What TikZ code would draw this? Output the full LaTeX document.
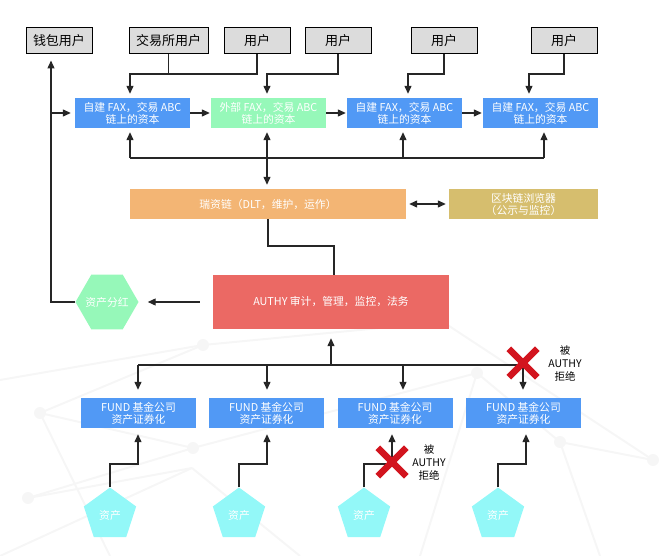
\documentclass[tikz,border=0pt]{standalone}
\usepackage{fontspec}
\setmainfont{Noto Sans CJK SC}
\usetikzlibrary{arrows.meta,shapes.geometric,shapes.misc,positioning}

\definecolor{usergray}{HTML}{DCDCDC}
\definecolor{capblue}{HTML}{5199F5}
\definecolor{capgreen}{HTML}{96F8B9}
\definecolor{chainorange}{HTML}{F3B574}
\definecolor{browsertan}{HTML}{D6BE6E}
\definecolor{authyred}{HTML}{EB6964}
\definecolor{assetcyan}{HTML}{93F8F8}
\definecolor{crossred}{HTML}{D2141E}
\definecolor{netgray}{HTML}{F6F6F6}

\begin{document}
\begin{tikzpicture}[x=1pt,y=-1pt,
  user/.style={draw=black,line width=1pt,fill=usergray,minimum width=66,minimum height=26,font=\fontsize{13}{15}\selectfont},
  box/.style={text=white,minimum width=115,minimum height=30,align=center,font=\fontsize{10.8}{12}\selectfont},
  line/.style={line width=1.3pt,draw=black!85},
  arrow/.style={line,-{Triangle[length=8pt,width=7pt]},shorten >=4pt},
  dblarrow/.style={line,{Triangle[length=8pt,width=7pt]}-{Triangle[length=8pt,width=7pt]},shorten >=4pt,shorten <=4pt},
  asset/.style={regular polygon,regular polygon sides=5,minimum size=55,fill=assetcyan,text=white,font=\fontsize{10.8}{12}\selectfont},
  cross/.style={cross out,draw=crossred,line width=6.5pt,minimum size=22},
  refuse/.style={align=center,font=\fontsize{10.5}{13}\selectfont}]
\tikzstyle{every node}+=[inner sep=0pt]
\useasboundingbox (0,0) rectangle (665,556);

% faint network in the background
\foreach \xa/\ya/\xb/\yb in {40/413/193/448, 193/448/28/498, 40/413/203/345, 203/345/443/322, 193/448/477/373,
  477/373/560/442, 560/442/653/460, 443/322/653/460, 28/498/192/468, 192/468/0/556, 40/413/110/556,
  477/373/420/556, 560/442/600/556, 203/345/0/380, 192/468/300/556}
  \draw[netgray,line width=2pt] (\xa,\ya) -- (\xb,\yb);
\foreach \xa/\ya in {40/413,193/448,28/498,203/345,477/373,560/442,653/460,443/322}
  \fill[netgray] (\xa,\ya) circle (6);

% users
\node[user] (wallet) at (59,41) {钱包用户};
\node[user,minimum width=79] (exch) at (168.5,41) {交易所用户};
\node[user] (u1) at (257,41) {用户};
\node[user] (u2) at (338,41) {用户};
\node[user] (u3) at (444,41) {用户};
\node[user] (u4) at (564,41) {用户};

% capital on chain
\node[box,fill=capblue] (a1) at (132.5,113) {自建 FAX，交易 ABC\\链上的资本};
\node[box,fill=capgreen] (a2) at (268.5,113) {外部 FAX，交易 ABC\\链上的资本};
\node[box,fill=capblue] (a3) at (404.5,113) {自建 FAX，交易 ABC\\链上的资本};
\node[box,fill=capblue] (a4) at (540.5,113) {自建 FAX，交易 ABC\\链上的资本};

\node[box,fill=chainorange,minimum width=276] (chain) at (268,204) {瑞资链（DLT，维护，运作）};
\node[box,fill=browsertan,minimum width=149] (browser) at (523.5,204) {区块链浏览器\\（公示与监控）};

\node[box,fill=authyred,minimum width=236,minimum height=54] (authy) at (331,302) {AUTHY 审计，管理，监控，法务};
\node[regular polygon,regular polygon sides=6,minimum size=63,fill=capgreen,
  label={[text=white,font=\fontsize{10.8}{12}\selectfont]center:资产分红}] (bonus) at (107,302) {};

% fund companies
\node[box,fill=capblue] (f1) at (138.5,413) {FUND 基金公司\\资产证券化};
\node[box,fill=capblue] (f2) at (266.5,413) {FUND 基金公司\\资产证券化};
\node[box,fill=capblue] (f3) at (395,413) {FUND 基金公司\\资产证券化};
\node[box,fill=capblue] (f4) at (523.5,413) {FUND 基金公司\\资产证券化};

\node[asset] (p1) at (110,515) {资产};
\node[asset] (p2) at (239,515) {资产};
\node[asset] (p3) at (364,515) {资产};
\node[asset] (p4) at (498,515) {资产};

% junctions
\coordinate (j1) at (130,74);
\coordinate (j2) at (267,74);
\coordinate (j3) at (408,74);
\coordinate (j4) at (529,74);
\coordinate (b1) at (130,158);
\coordinate (b3) at (403,158);
\coordinate (b4) at (544,158);
\coordinate (w) at (51,302);
\coordinate (k) at (334,246);
\coordinate (c1) at (138,365);
\coordinate (c2) at (267,365);
\coordinate (c3) at (403,365);
\coordinate (c4) at (523,365);
\coordinate (d1) at (138,464);
\coordinate (d2) at (267,464);
\coordinate (d3) at (392,464);
\coordinate (d4) at (526,464);

% users down to the chain
\draw[line] (exch.south) -- (exch.south |- j1);
\draw[arrow] (u1.south) |- (j1) -- (j1 |- a1.north);
\draw[arrow] (u2.south) |- (j2) -- (j2 |- a2.north);
\draw[arrow] (u3.south) |- (j3) -- (j3 |- a3.north);
\draw[arrow] (u4.south) |- (j4) -- (j4 |- a4.north);

\draw[arrow,shorten >=1pt] (a1) -- (a2);
\draw[arrow,shorten >=1pt] (a2) -- (a3);
\draw[arrow,shorten >=1pt] (a3) -- (a4);

% bus under the capital boxes
\draw[line] (b1) -- (b4);
\draw[arrow] (b1) -- (b1 |- a1.south);
\draw[arrow] (b3) -- (b3 |- a3.south);
\draw[arrow] (b4) -- (b4 |- a4.south);
\draw[dblarrow] (j2 |- a2.south) -- (j2 |- chain.north);
\draw[dblarrow,shorten >=3pt,shorten <=3pt] (chain) -- (browser);

\draw[line] (chain.south) |- (k) -- (k |- authy.north);
\draw[arrow,shorten <=13pt,shorten >=9pt] (authy) -- (bonus);
\draw[arrow,shorten >=6pt] (bonus.west) -- (w) -- (w |- wallet.south);
\draw[arrow] (w |- a1.west) -- (a1.west);

% funds
\draw[line] (c1) -- (c4);
\draw[arrow,shorten >=9pt] (authy.south |- c1) -- (authy.south);
\draw[arrow,shorten >=8pt] (c1) -- (c1 |- f1.north);
\draw[arrow,shorten >=8pt] (c2) -- (c2 |- f2.north);
\draw[arrow,shorten >=8pt] (c3) -- (c3 |- f3.north);
\draw[arrow,shorten >=8pt] (c4) -- (c4 |- f4.north);

\draw[arrow,shorten >=6pt] (p1.north) |- (d1) -- (d1 |- f1.south);
\draw[arrow,shorten >=6pt] (p2.north) |- (d2) -- (d2 |- f2.south);
\draw[arrow,shorten >=6pt] (p3.north) |- (d3) -- (d3 |- f3.south);
\draw[arrow,shorten >=6pt] (p4.north) |- (d4) -- (d4 |- f4.south);

% refused by AUTHY
\node[cross] (x1) at (523,363) {};
\node[refuse,right=42pt of x1.center,anchor=center] (r1) {被\\AUTHY\\拒绝};
\node[cross] (x2) at (392,462) {};
\node[refuse,right=37pt of x2.center,anchor=center] (r2) {被\\AUTHY\\拒绝};
\end{tikzpicture}
\end{document}
